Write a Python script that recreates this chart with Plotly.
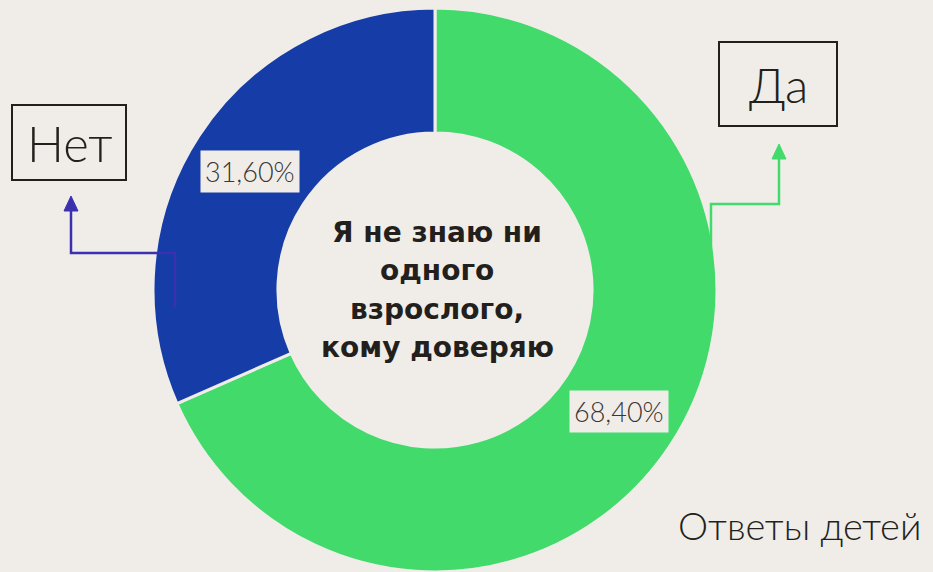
import plotly.graph_objects as go

# Survey data
labels = ["Да", "Нет"]
values = [68.40, 31.60]
value_text = ["68,40%", "31,60%"]
colors = ["#42DA6B", "#163CA8"]
center_lines = ["Я не знаю ни", "одного", "взрослого,", "кому доверяю"]
footer = "Ответы детей"

W, H = 933, 572
BG = "#F0EDE9"
INK = "#231F1C"


def px(x):
    return x / W


def py(y):
    return 1 - y / H


fig = go.Figure(
    go.Pie(
        labels=labels,
        values=values,
        hole=0.557,
        sort=False,
        direction="clockwise",
        rotation=0,
        marker=dict(colors=colors, line=dict(color=BG, width=3)),
        textinfo="none",
        hoverinfo="label+percent",
        domain=dict(x=[px(153), px(717)], y=[py(572), py(8)]),
        showlegend=False,
    )
)

shapes = []
annotations = []

# Category boxes
boxes = [
    ("Нет", 12, 105, 126, 180, 49),
    ("Да", 719, 42, 837, 126, 48),
]
for text, x0, y0, x1, y1, size in boxes:
    shapes.append(dict(type="rect", xref="paper", yref="paper",
                       x0=px(x0), x1=px(x1), y0=py(y1), y1=py(y0),
                       line=dict(color=INK, width=2), fillcolor="rgba(0,0,0,0)"))
    annotations.append(dict(text=text, xref="paper", yref="paper",
                            x=px((x0 + x1) / 2), y=py((y0 + y1) / 2 + 1),
                            xanchor="center", yanchor="middle", showarrow=False,
                            font=dict(family="Lato", size=size, color=INK, weight=300)))


def connector(points, color):
    path = "M " + " L ".join(f"{px(x)},{py(y)}" for x, y in points)
    shapes.append(dict(type="path", xref="paper", yref="paper", path=path,
                       line=dict(color=color, width=2.5)))
    tx, ty = points[-1]
    head = (f"M {px(tx)},{py(ty - 15)} L {px(tx - 7)},{py(ty)} "
            f"L {px(tx + 7)},{py(ty)} Z")
    shapes.append(dict(type="path", xref="paper", yref="paper", path=head,
                       line=dict(color=color, width=1), fillcolor=color))


# Leader arrows from the ring to the boxes
connector([(175, 308), (175, 253), (71, 253), (71, 211)], "#3B31B0")
connector([(711, 250), (711, 204), (779, 204), (779, 159)], "#42DA6B")

# Percentage labels on the ring
pct_pos = [(619, 411), (250, 172)]
for t, (cx, cy) in zip(value_text, pct_pos):
    annotations.append(dict(text=t, xref="paper", yref="paper",
                            x=px(cx), y=py(cy), xanchor="center", yanchor="middle",
                            showarrow=False, bgcolor=BG, borderpad=4,
                            font=dict(family="Lato", size=27, color="#3A3633", weight=300)))

# Centre caption, one line at a time
for i, line in enumerate(center_lines):
    annotations.append(dict(text=line, xref="paper", yref="paper",
                            x=px(437), y=py(232 + 38.5 * i), xanchor="center",
                            yanchor="middle", showarrow=False,
                            font=dict(family="DejaVu Sans", size=28, color=INK, weight=700)))

# Footer
annotations.append(dict(text=footer, xref="paper", yref="paper",
                        x=px(923), y=py(525), xanchor="right", yanchor="middle",
                        showarrow=False,
                        font=dict(family="Lato", size=38, color=INK, weight=300)))

fig.update_layout(
    width=W, height=H,
    margin=dict(l=0, r=0, t=0, b=0),
    paper_bgcolor=BG, plot_bgcolor=BG,
    shapes=shapes, annotations=annotations,
)

fig.write_html("out.html")
